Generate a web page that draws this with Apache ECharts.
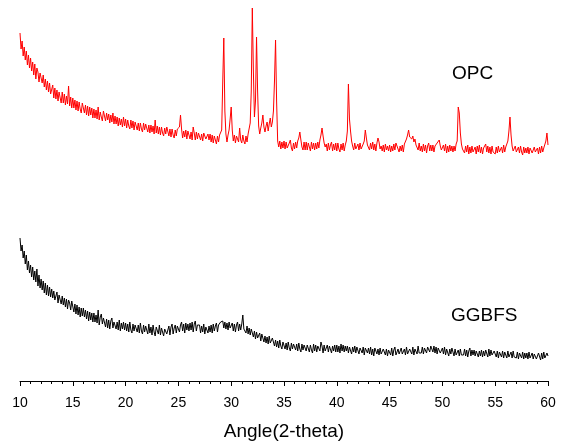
<!DOCTYPE html>
<html>
<head>
<meta charset="utf-8">
<script src="https://cdn.jsdelivr.net/npm/echarts@6/dist/echarts.min.js"></script>
<style>
html,body{margin:0;padding:0;background:#fff;}
#chart{width:563px;height:446px;}
</style>
</head>
<body>
<div id="chart"></div>
<script>
// 2-theta scan: first angle and step (degrees)
var angleStart = 10;
var angleStep = 0.1;
var xTicks = [10, 15, 20, 25, 30, 35, 40, 45, 50, 55, 60];
var seriesNames = ["OPC", "GGBFS"];
var axisTitle = "Angle(2-theta)";

// OPC intensity (arbitrary units), one value per 0.1 degree, 10.0 .. 60.0
var opcIntensity = [
  348,332,340,325,334,321,330,316,326,313,
  323,310,319,306,317,302,313,309,299,308,
  309,298,306,294,302,291,300,289,298,287,
  287,296,283,293,282,291,280,289,288,278,
  289,278,287,276,285,277,295,275,284,273,
  283,273,281,271,280,270,279,272,268,278,
  278,268,276,266,275,265,274,266,273,263,
  272,263,271,262,274,261,269,264,260,270,
  270,260,268,261,267,258,266,259,268,257,
  265,257,264,255,263,256,262,254,264,255,
  262,253,261,255,252,261,253,260,251,259,
  259,251,258,250,258,252,249,258,251,257,
  257,249,256,248,256,249,255,247,261,248,
  255,247,254,246,254,248,245,253,247,254,
  253,245,252,244,252,246,243,251,245,252,
  251,254,266,252,243,250,244,251,242,250,
  250,242,249,241,254,248,241,249,242,248,
  248,241,247,240,248,249,242,240,247,241,
  247,239,246,238,245,243,237,245,239,246,
  244,251,300,343,270,247,239,246,251,262,
  274,251,240,246,238,245,247,239,253,241,
  238,246,240,237,245,239,247,249,258,290,
  373,310,264,280,344,290,255,247,253,258,
  266,254,249,255,259,250,257,263,254,259,
  270,300,341,280,240,234,240,232,239,233,
  240,232,239,233,231,238,241,233,230,238,
  232,239,233,240,243,249,241,234,231,239,
  231,239,231,238,236,230,239,232,238,231,
  238,232,239,233,241,246,253,245,238,234,
  237,230,238,231,236,239,230,237,231,238,
  230,238,232,229,237,231,238,230,236,240,
  250,297,262,250,240,235,231,238,232,230,
  237,231,238,232,230,237,240,251,243,236,
  237,231,238,232,239,231,237,230,238,243,
  239,232,235,230,236,229,237,231,235,230,
  236,229,235,230,237,231,238,239,232,229,
  235,230,236,229,237,238,242,246,251,244,
  246,242,245,239,242,236,234,231,238,230,
  235,229,237,230,236,228,235,238,230,236,
  230,236,229,235,233,238,237,241,235,231,
  229,236,230,237,228,235,229,236,230,235,
  229,235,230,237,240,274,268,248,237,232,
  234,228,235,229,236,227,234,228,235,229,
  228,234,227,235,229,236,228,234,227,233,
  234,237,229,235,228,234,227,235,229,228,
  227,234,228,235,229,227,234,228,236,229,
  234,232,240,250,264,246,235,230,228,235,
  229,227,234,228,235,229,226,234,228,233,
  228,234,227,233,235,228,226,234,229,227,
  233,227,234,228,235,229,233,235,240,248,
  236
];

// GGBFS intensity (arbitrary units), one value per 0.1 degree, 10.0 .. 60.0
var ggbfsIntensity = [
  143,130,136,123,130,117,126,111,120,108,
  116,104,114,101,110,99,112,95,106,93,
  102,91,100,88,98,86,96,85,94,84,
  92,83,90,81,80,89,78,86,87,77,
  85,76,83,74,82,72,81,78,71,80,
  79,69,77,67,76,66,74,64,73,65,
  73,64,71,62,70,60,69,61,68,59,
  68,59,66,58,71,56,64,67,57,63,
  63,54,62,53,61,52,60,63,53,59,
  60,52,59,51,61,50,58,52,59,51,
  58,50,57,49,59,51,48,57,50,56,
  57,49,56,48,58,50,47,56,49,55,
  55,47,57,48,54,46,56,49,45,54,
  54,47,56,46,53,55,45,52,54,47,
  48,55,46,54,57,47,53,56,48,55,
  57,49,56,59,50,57,48,58,51,57,
  50,58,51,59,49,57,60,50,56,58,
  56,48,55,49,57,47,54,56,48,55,
  49,56,48,57,50,55,58,49,56,57,
  59,61,60,53,59,52,58,51,59,53,
  51,58,50,57,49,56,59,50,57,51,
  57,66,52,54,48,55,47,53,46,52,
  51,44,50,42,49,43,45,48,40,47,
  46,39,45,38,44,37,45,38,36,43,
  42,35,41,34,40,33,41,35,32,39,
  39,32,38,31,39,33,30,38,32,37,
  38,31,37,30,38,32,29,37,31,36,
  37,30,36,38,29,36,31,28,37,30,
  36,29,35,37,30,39,35,28,36,30,
  30,36,29,35,37,28,35,30,36,29,
  36,29,35,28,37,30,36,29,35,30,
  35,28,34,36,27,34,29,35,28,34,
  34,27,33,35,28,34,26,33,35,28,
  33,27,34,26,32,25,33,35,27,32,
  26,33,27,25,32,34,26,32,25,31,
  32,26,33,25,31,34,26,24,32,27,
  26,33,27,25,32,26,34,27,25,32,
  33,27,34,26,32,33,27,35,28,26,
  28,34,27,33,35,28,34,36,29,35,
  36,29,35,28,34,27,33,35,28,27,
  33,27,34,26,32,33,25,32,27,33,
  31,25,32,26,24,31,25,32,26,25,
  26,32,25,31,24,30,33,25,31,26,
  31,25,30,32,24,30,25,31,24,30,
  25,31,30,24,32,25,31,26,24,30,
  30,24,30,23,29,31,24,30,23,29,
  29,23,30,24,22,29,23,30,24,23,
  23,29,22,28,30,23,29,22,28,23,
  28,22,29,23,21,28,22,27,29,22,
  22,28,27,21,28,22,29,23,22,28,
  25
];

function toPairs(values) {
  return values.map(function (v, i) {
    return [Math.round((angleStart + i * angleStep) * 10) / 10, v];
  });
}

var chart = echarts.init(document.getElementById('chart'), null, {renderer: 'canvas'});
var FONT = '"Liberation Sans", Arial, sans-serif';
chart.setOption({
  animation: false,
  backgroundColor: '#ffffff',
  grid: {left: 20, right: 15, top: 0, bottom: 65, containLabel: false},
  xAxis: {
    type: 'value',
    min: xTicks[0],
    max: xTicks[xTicks.length - 1],
    interval: 5,
    name: axisTitle,
    nameLocation: 'middle',
    nameGap: 41,
    nameTextStyle: {color: '#000', fontSize: 19, fontFamily: FONT},
    axisLine: {show: true, onZero: false, lineStyle: {color: '#000', width: 1}},
    axisTick: {show: true, inside: false, length: 5, lineStyle: {color: '#000', width: 1}},
    minorTick: {show: true, splitNumber: 5, length: 3, lineStyle: {color: '#000', width: 1}},
    axisLabel: {color: '#000', fontSize: 14, fontFamily: FONT, margin: 15},
    splitLine: {show: false}
  },
  yAxis: {
    type: 'value',
    min: 0,
    max: 381,
    show: false,
    splitLine: {show: false}
  },
  graphic: [
    {type: 'text', left: 452, top: 64, style: {text: seriesNames[0], fill: '#000', font: '19px ' + FONT}},
    {type: 'text', left: 451, top: 306, style: {text: seriesNames[1], fill: '#000', font: '19px ' + FONT}}
  ],
  series: [
    {
      name: seriesNames[0],
      type: 'line',
      data: toPairs(opcIntensity),
      showSymbol: false,
      symbol: 'none',
      lineStyle: {color: '#ff0000', width: 1},
      z: 3
    },
    {
      name: seriesNames[1],
      type: 'line',
      data: toPairs(ggbfsIntensity),
      showSymbol: false,
      symbol: 'none',
      lineStyle: {color: '#000000', width: 1},
      z: 2
    }
  ]
});
</script>
</body>
</html>
